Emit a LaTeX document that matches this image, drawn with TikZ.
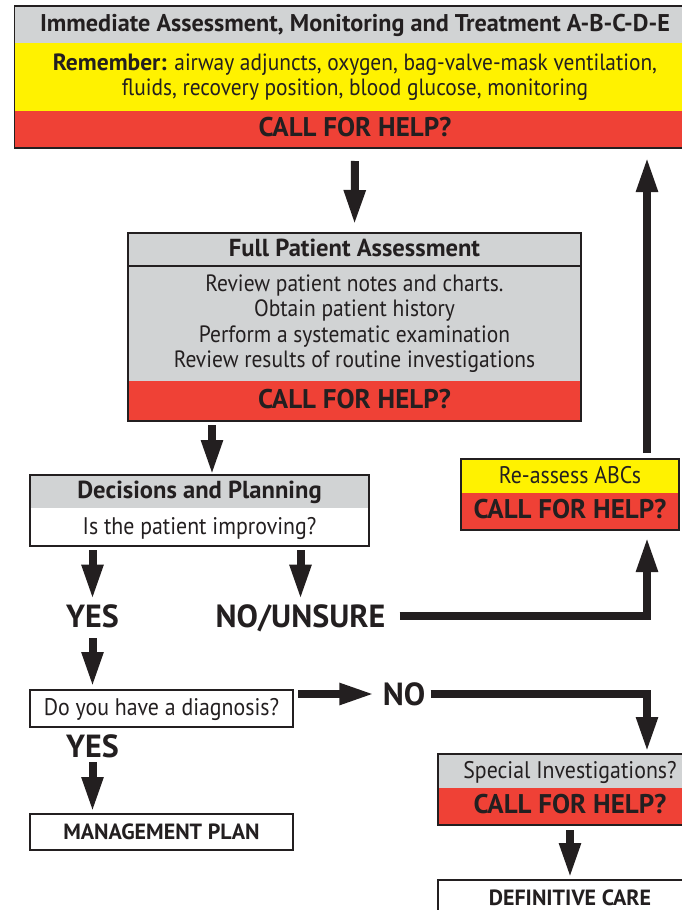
\documentclass[tikz,border=0pt]{standalone}
\usepackage{fontspec}
\setmainfont{PT Sans}[UprightFeatures={FakeStretch=0.91}, BoldFeatures={FakeStretch=1.0}]
\usepackage{tikz}
\usetikzlibrary{positioning, calc, arrows.meta}
\definecolor{inkc}{HTML}{231F20}
\definecolor{bandgray}{HTML}{D1D3D4}
\definecolor{bandyel}{HTML}{FFF200}
\definecolor{bandred}{HTML}{EF4136}

\begin{document}
\begin{tikzpicture}[x=0.5pt, y=-0.5pt, text=inkc,
  band/.style={inner sep=0pt, outer sep=0pt, align=center, text height=0.8em, text depth=0.1em},
  grayband/.style={band, fill=bandgray},
  yelband/.style={band, fill=bandyel},
  whiteband/.style={band, fill=white},
  redband/.style={band, fill=bandred, font=\fontsize{13.5}{16}\selectfont\bfseries},
  boxline/.style={draw=inkc, line width=0.65pt},
  endbox/.style={band, draw=inkc, line width=1.3pt, fill=white, font=\fontsize{11}{13}\selectfont\bfseries},
  bigword/.style={inner sep=0pt, font=\fontsize{16}{18}\selectfont\bfseries, text height=11pt, text depth=0pt},
  flow/.style={draw=inkc, line width=4pt, -{Triangle[length=17.5pt, width=10pt]}},
  bodyfont/.style={font=\fontsize{12}{12.75}\selectfont},
  headfont/.style={font=\fontsize{12.3}{14}\selectfont\bfseries}]

\useasboundingbox (0,0) rectangle (681,910);

% px grid: x right, y down; right-hand column runs at x=647
\coordinate (rx) at (647,0);
\coordinate (ax) at (212,0);

%% ── immediate assessment (top) ───────────────────────────────────
\node[grayband, font=\fontsize{12.1}{14}\selectfont\bfseries, minimum width=340.3pt, minimum height=18.5pt] (ia) at (355,24.5)
  {Immediate Assessment, Monitoring and Treatment A-B-C-D-E};
\node[yelband, font=\fontsize{11.75}{12.5}\selectfont, minimum width=340.3pt, minimum height=34pt, text height=, text depth=, below=0pt of ia] (remember)
  {{\bfseries Remember:} airway adjuncts, oxygen, bag-valve-mask ventilation,\\
   fluids, recovery position, blood glucose, monitoring};
\node[redband, minimum width=340.3pt, minimum height=18.5pt, below=0pt of remember] (topred) {CALL FOR HELP?};
\draw[boxline] (ia.north west) rectangle (topred.south east);

%% ── full patient assessment ──────────────────────────────────────
\node[grayband, headfont, minimum width=226.5pt, minimum height=16.5pt] (fpahdr) at (354.5,249.5) {Full Patient Assessment};
\node[grayband, font=\fontsize{11.8}{12.75}\selectfont, minimum width=226.5pt, minimum height=57.5pt, text height=, text depth=, below=0pt of fpahdr] (fpabody)
  {Review patient notes and charts.\\ Obtain patient history\\
   Perform a systematic examination\\ Review results of routine investigations};
\node[redband, minimum width=226.5pt, minimum height=20pt, below=0pt of fpabody] (fpared) {CALL FOR HELP?};
\draw[boxline] (fpahdr.north west) rectangle (fpared.south east);
\draw[boxline] (fpahdr.south west) -- (fpahdr.south east);

%% ── decisions and planning ───────────────────────────────────────
\node[grayband, headfont, minimum width=169.5pt, minimum height=16.5pt] (dechdr) at (199.5,491.5) {Decisions and Planning};
\node[whiteband, bodyfont, minimum width=169.5pt, minimum height=19pt, below=0pt of dechdr] (decq) {Is the patient improving?};
\draw[boxline] (dechdr.north west) rectangle (decq.south east);

%% ── re-assess (right column) ─────────────────────────────────────
\node[yelband, bodyfont, minimum width=109pt, minimum height=17pt] (reasyel) at (570,476) {Re-assess ABCs};
\node[redband, minimum width=109pt, minimum height=18.5pt, below=0pt of reasyel] (reasred) {CALL FOR HELP?};
\draw[boxline] (reasyel.north west) rectangle (reasred.south east);

%% ── answers ──────────────────────────────────────────────────────
\node[bigword] (yes1) at (92.5,616) {YES};
\node[bigword] (nu) at (300.5,616) {NO/UNSURE};
\node[whiteband, boxline, bodyfont, minimum width=131.5pt, minimum height=18.5pt] (diag) at (161.5,708.5) {Do you have a diagnosis?};
\node[bigword] (no) at (404,694) {NO};
\node[bigword] (yes2) at (92.5,746) {YES};

%% ── end points ───────────────────────────────────────────────────
\node[endbox, minimum width=131.5pt, minimum height=18pt] (mplan) at (161.5,832) {MANAGEMENT PLAN};
\node[grayband, bodyfont, minimum width=132pt, minimum height=17pt] (spechdr) at (570,771) {Special Investigations?};
\node[redband, minimum width=132pt, minimum height=18.5pt, below=0pt of spechdr] (specred) {CALL FOR HELP?};
\draw[boxline] (spechdr.north west) rectangle (specred.south east);
\node[endbox, minimum width=132pt, minimum height=18pt] (defcare) at (570,898) {DEFINITIVE CARE};

%% ── flow arrows ──────────────────────────────────────────────────
\draw[flow, shorten <=6.5pt, shorten >=4pt] (topred.south) -- (fpahdr.north);
\draw[flow, shorten <=2pt] (fpared.south -| ax) -- (dechdr.north -| ax);
\draw[flow, shorten <=2pt, shorten >=2.5pt] (decq.south -| yes1) -- (yes1.north);
\draw[flow, shorten <=2pt, shorten >=2.5pt] (decq.south -| nu) -- (nu.north);
\draw[flow, shorten <=7pt, shorten >=3.5pt] (nu.east) -| (reasred.south -| rx);
\draw[flow, shorten <=3pt, shorten >=4.5pt] (reasyel.north -| rx) -- (topred.south -| rx);
\draw[flow, shorten <=5.5pt, shorten >=1.5pt] (yes1.south) -- (diag.north -| yes1);
\draw[flow, shorten <=2.5pt, shorten >=4pt] (diag.east |- no) -- (no.west);
\draw[flow, shorten <=2.5pt, shorten >=1pt] (no.east) -| (spechdr.north -| rx);
\draw[flow, shorten <=2.5pt, shorten >=1pt] (yes2.south) -- (mplan.north -| yes2);
\draw[flow, shorten <=2.5pt, shorten >=1pt] (specred.south) -- (defcare.north);

\end{tikzpicture}
\end{document}
